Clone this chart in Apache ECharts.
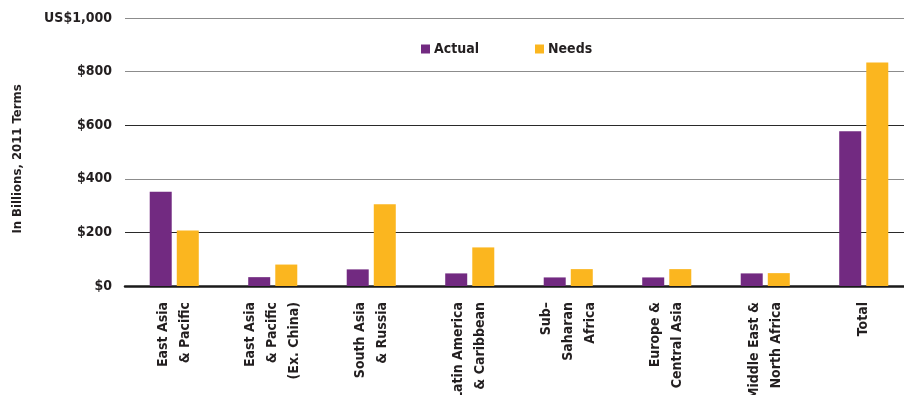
<!DOCTYPE html>
<html>
<head>
<meta charset="utf-8">
<script src="https://cdn.jsdelivr.net/npm/echarts@6/dist/echarts.min.js"></script>
<style>html,body{margin:0;padding:0;background:#fff}#c{width:904px;height:395px}</style>
</head>
<body>
<div id="c"></div>
<script>
const categories = ['East Asia\n& Pacific', 'East Asia\n& Pacific\n(Ex. China)', 'South Asia\n& Russia', 'Latin America\n& Caribbean', 'Sub–\nSaharan\nAfrica', 'Europe &\nCentral Asia', 'Middle East &\nNorth Africa', 'Total'];
const actual = [352, 33, 62, 47, 32, 32, 47, 577];
const needs = [207, 80, 305, 144, 63, 63, 48, 834];
const yTicks = ['$0', '$200', '$400', '$600', '$800', 'US$1,000'];

const FONT = "'Liberation Sans Narrow', 'DejaVu Sans Condensed', 'Noto Sans', sans-serif";
const chart = echarts.init(document.getElementById('c'), null, {renderer: 'canvas'});
chart.setOption({
  animation: false,
  backgroundColor: '#ffffff',
  textStyle: {fontFamily: FONT},
  legend: {
    left: 416, top: 37,
    icon: 'rect', itemWidth: 9, itemHeight: 9, itemGap: 56,
    textStyle: {fontFamily: FONT, fontWeight: 'bold', fontSize: 14, color: '#231f20', padding: [0, 0, 0, -1]},
    data: ['Actual', 'Needs']
  },
  grid: [
    {left: 125, right: 0, top: 18, height: 268, outerBoundsMode: 'none', containLabel: false},
    {left: 125, width: 788, top: 18, height: 268, outerBoundsMode: 'none', containLabel: false}
  ],
  xAxis: [
    {gridIndex: 0, type: 'category', data: [''], axisLabel: {show: false}, axisTick: {show: false},
     axisLine: {show: true, lineStyle: {color: '#1a1a1a', width: 2.5}}},
    {gridIndex: 1, type: 'category', data: categories, axisLine: {show: false}, axisTick: {show: false},
     axisLabel: {interval: 0, rotate: 90, margin: 16, fontFamily: FONT, fontWeight: 'bold', fontSize: 14, lineHeight: 22, color: '#231f20'}}
  ],
  yAxis: [
    {gridIndex: 0, type: 'value', min: 0, max: 1000, interval: 200,
     name: 'In Billions, 2011 Terms', nameLocation: 'middle', nameGap: 101, nameRotate: 90,
     nameTextStyle: {fontFamily: FONT, fontWeight: 'bold', fontSize: 13, color: '#231f20', padding: [0, 14, 0, 0]},
     axisLine: {show: false}, axisTick: {show: false},
     axisLabel: {margin: 13, fontFamily: FONT, fontWeight: 'bold', fontSize: 14, color: '#231f20',
       formatter: function (v) { return yTicks[Math.round(v / 200)]; }},
     splitLine: {show: true, lineStyle: {width: 1.2, color: ['#1a1a1a', '#2a2a2a', '#8c8c8c', '#2a2a2a', '#8c8c8c', '#8c8c8c']}}},
    {gridIndex: 1, type: 'value', min: 0, max: 1000, interval: 200, show: false, splitLine: {show: false}}
  ],
  series: [
    {name: 'Actual', type: 'bar', xAxisIndex: 1, yAxisIndex: 1, data: actual, barWidth: 22, barGap: '23%',
     itemStyle: {color: '#722a81'}},
    {name: 'Needs', type: 'bar', xAxisIndex: 1, yAxisIndex: 1, data: needs, barWidth: 22, barGap: '23%',
     itemStyle: {color: '#fbb61f'}}
  ]
});
</script>
</body>
</html>
